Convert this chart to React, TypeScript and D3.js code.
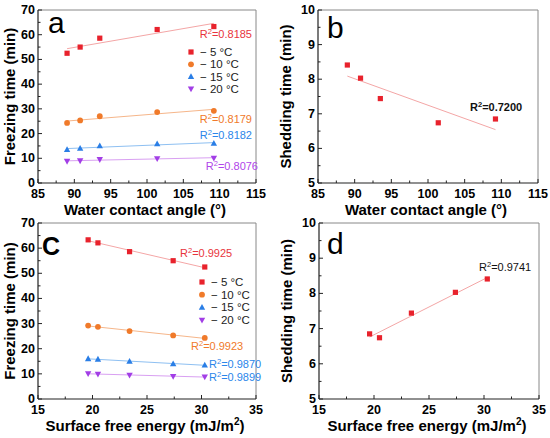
import * as d3 from "d3";

// contact angle and surface energy of the five samples (same order)
const contactAngles = [89.0, 90.8, 93.5, 101.4, 109.2];
const surfaceEnergies = [30.3, 27.4, 23.4, 20.5, 19.6];

// freezing time (min) per temperature
const freezeMinus5 = [52.5, 55.0, 58.6, 62.1, 63.3];
const freezeMinus10 = [24.3, 25.3, 27.0, 28.7, 29.2];
const freezeMinus15 = [13.5, 14.0, 15.0, 15.8, 16.0];
const freezeMinus20 = [8.8, 9.0, 9.5, 9.9, 10.1];

// shedding time (min)
const sheddingTimes = [8.41, 8.03, 7.44, 6.74, 6.85];

const tempLabels = ["\u2212 5 \u00b0C", "\u2212 10 \u00b0C", "\u2212 15 \u00b0C", "\u2212 20 \u00b0C"];
const r2Angle = ["0.8185", "0.8179", "0.8182", "0.8076"];
const r2Energy = ["0.9925", "0.9923", "0.9870", "0.9899"];
const r2SheddingAngle = "0.7200";
const r2SheddingEnergy = "0.9741";

const FONT = "'Liberation Sans', Arial, sans-serif";

type Shape = "square" | "circle" | "up" | "down";

type Series = {
  ys: number[];
  color: string;
  lineColor: string;
  shape: Shape;
};

const freezeSeries: Series[] = [
  { ys: freezeMinus5, color: "#e8222c", lineColor: "#f4a6a6", shape: "square" },
  { ys: freezeMinus10, color: "#f07a2a", lineColor: "#f6b68a", shape: "circle" },
  { ys: freezeMinus15, color: "#2a7ee6", lineColor: "#8ec0f2", shape: "up" },
  { ys: freezeMinus20, color: "#a23ee6", lineColor: "#d9a0f2", shape: "down" },
];

const r2Colors = ["#e8343c", "#f07a2a", "#2a86ea", "#b044ea"];

const fit = (xs: number[], ys: number[]) => {
  const mx = d3.mean(xs)!;
  const my = d3.mean(ys)!;
  const sxy = d3.sum(xs, (x, i) => (x - mx) * (ys[i] - my));
  const sxx = d3.sum(xs, (x) => (x - mx) ** 2);
  const slope = sxy / sxx;
  return (x: number) => my + slope * (x - mx);
};

const Marker = ({ x, y, shape, color }: { x: number; y: number; shape: Shape; color: string }) => {
  if (shape === "square") return <rect x={x - 2.6} y={y - 2.6} width={5.2} height={5.2} fill={color} />;
  if (shape === "circle") return <circle cx={x} cy={y} r={2.9} fill={color} />;
  if (shape === "up")
    return <path d={`M${x},${y - 3.4}L${x + 3.2},${y + 2.4}L${x - 3.2},${y + 2.4}Z`} fill={color} />;
  return <path d={`M${x},${y + 3.4}L${x + 3.2},${y - 2.4}L${x - 3.2},${y - 2.4}Z`} fill={color} />;
};

const R2 = ({ x, y, value, color, anchor = "start", weight = "normal" }: any) => (
  <text x={x} y={y} fill={color} fontSize={11} fontFamily={FONT} textAnchor={anchor} fontWeight={weight}>
    R<tspan fontSize={7.5} dy={-4.5}>2</tspan>
    <tspan dy={4.5}>={value}</tspan>
  </text>
);

type PanelProps = {
  left: number;
  top: number;
  width: number;
  height: number;
  xDomain: [number, number];
  yDomain: [number, number];
  yStep: number;
  xs: number[];
  series: Series[];
  letter: string;
  letterPos: [number, number];
  letterBold?: boolean;
  xTitle: React.ReactNode;
  yTitle: string;
  yTitleGap: number;
  children?: React.ReactNode;
};

const Panel = ({
  left, top, width, height, xDomain, yDomain, yStep, xs, series,
  letter, letterPos, letterBold, xTitle, yTitle, yTitleGap, children,
}: PanelProps) => {
  const x = d3.scaleLinear().domain(xDomain).range([left, left + width]);
  const y = d3.scaleLinear().domain(yDomain).range([top + height, top]);
  const xMajor = d3.range(xDomain[0], xDomain[1] + 0.001, 5);
  const xMinor = d3.range(xDomain[0] + 2.5, xDomain[1], 5);
  const yMajor = d3.range(yDomain[0], yDomain[1] + 0.001, yStep);
  const yMinor = d3.range(yDomain[0] + yStep / 2, yDomain[1], yStep);
  const bottom = top + height;
  const [x0, x1] = d3.extent(xs) as [number, number];

  return (
    <g>
      {/* frame */}
      <line x1={left} x2={left + width} y1={top} y2={top} stroke="#888" strokeWidth={1} />
      <line x1={left + width} x2={left + width} y1={top} y2={bottom} stroke="#888" strokeWidth={1} />
      <line x1={left} x2={left} y1={top} y2={bottom} stroke="#222" strokeWidth={1.2} />
      <line x1={left} x2={left + width} y1={bottom} y2={bottom} stroke="#222" strokeWidth={1.2} />

      {xMajor.map((t) => (
        <g key={"xm" + t}>
          <line x1={x(t)} x2={x(t)} y1={bottom} y2={bottom - 4} stroke="#222" />
          <text x={x(t)} y={bottom + 15} textAnchor="middle" fontSize={12.5} fontWeight="bold" fontFamily={FONT}>
            {t}
          </text>
        </g>
      ))}
      {xMinor.map((t) => (
        <line key={"xn" + t} x1={x(t)} x2={x(t)} y1={bottom} y2={bottom - 2.5} stroke="#222" />
      ))}
      {yMajor.map((t) => (
        <g key={"ym" + t}>
          <line x1={left} x2={left + 4} y1={y(t)} y2={y(t)} stroke="#222" />
          <text x={left - 3} y={y(t) + 4} textAnchor="end" fontSize={12.5} fontWeight="bold" fontFamily={FONT}>
            {t}
          </text>
        </g>
      ))}
      {yMinor.map((t) => (
        <line key={"yn" + t} x1={left} x2={left + 2.5} y1={y(t)} y2={y(t)} stroke="#222" />
      ))}

      <text
        x={left + width / 2 - 2}
        y={bottom + 31.5}
        textAnchor="middle"
        fontSize={15}
        fontWeight="bold"
        fontFamily={FONT}
      >
        {xTitle}
      </text>
      <text
        transform={`translate(${left - yTitleGap},${top + height / 2}) rotate(-90)`}
        textAnchor="middle"
        fontSize={15}
        fontWeight="bold"
        fontFamily={FONT}
      >
        {yTitle}
      </text>

      {series.map((s, si) => {
        const f = fit(xs, s.ys);
        return (
          <g key={si}>
            <line x1={x(x0)} x2={x(x1)} y1={y(f(x0))} y2={y(f(x1))} stroke={s.lineColor} strokeWidth={1} />
            {xs.map((v, i) => (
              <Marker key={i} x={x(v)} y={y(s.ys[i])} shape={s.shape} color={s.color} />
            ))}
          </g>
        );
      })}

      <text
        x={letterPos[0]}
        y={letterPos[1]}
        fontSize={letterBold ? 25 : 30}
        fontWeight={letterBold ? "bold" : "normal"}
        fontFamily={FONT}
      >
        {letter}
      </text>
      {children}
    </g>
  );
};

const Legend = ({ x, y, gap }: { x: number; y: number; gap: number }) => (
  <g>
    {freezeSeries.map((s, i) => (
      <g key={i}>
        <Marker x={x} y={y + i * gap} shape={s.shape} color={s.color} />
        <text x={x + 9} y={y + i * gap + 4} fontSize={11.5} fontFamily={FONT} fill="#222">
          {tempLabels[i]}
        </text>
      </g>
    ))}
  </g>
);

const energyTitle = (
  <>
    Surface free energy (mJ/m<tspan fontSize={10} dy={-6}>2</tspan>
    <tspan dy={6}>)</tspan>
  </>
);

const App = () => {
  const shedSeries: Series[] = [{ ys: sheddingTimes, color: "#e8222c", lineColor: "#f4a6a6", shape: "square" }];
  return (
    <svg width={550} height={438} style={{ position: "absolute", left: 0, top: 0, background: "#fff" }}>
      <Panel
        left={38}
        top={10}
        width={218}
        height={173}
        xDomain={[85, 115]}
        yDomain={[0, 70]}
        yStep={10}
        xs={contactAngles}
        series={freezeSeries}
        letter="a"
        letterPos={[48, 33]}
        xTitle="Water contact angle (°)"
        yTitle="Freezing time (min)"
        yTitleGap={23}
      >
        <Legend x={191} y={52} gap={12.3} />
        <R2 x={252} y={38} value={r2Angle[0]} color={r2Colors[0]} anchor="end" />
        <R2 x={252} y={123} value={r2Angle[1]} color={r2Colors[1]} anchor="end" />
        <R2 x={252} y={139} value={r2Angle[2]} color={r2Colors[2]} anchor="end" />
        <R2 x={258} y={170} value={r2Angle[3]} color={r2Colors[3]} anchor="end" />
      </Panel>
      <Panel
        left={318}
        top={10}
        width={220}
        height={173}
        xDomain={[85, 115]}
        yDomain={[5, 10]}
        yStep={1}
        xs={contactAngles}
        series={shedSeries}
        letter="b"
        letterPos={[327, 38]}
        xTitle="Water contact angle (°)"
        yTitle="Shedding time (min)"
        yTitleGap={27}
      >
        <R2 x={470} y={111} value={r2SheddingAngle} color="#111" weight="bold" />
      </Panel>
      <Panel
        left={38}
        top={223}
        width={218}
        height={176}
        xDomain={[15, 35]}
        yDomain={[0, 70]}
        yStep={10}
        xs={surfaceEnergies}
        series={freezeSeries}
        letter="C"
        letterPos={[42, 255]}
        letterBold
        xTitle={energyTitle}
        yTitle="Freezing time (min)"
        yTitleGap={23}
      >
        <Legend x={202} y={282} gap={12.7} />
        <R2 x={180} y={257} value={r2Energy[0]} color={r2Colors[0]} />
        <R2 x={191} y={350} value={r2Energy[1]} color={r2Colors[1]} />
        <R2 x={209} y={368} value={r2Energy[2]} color={r2Colors[2]} />
        <R2 x={209} y={381} value={r2Energy[3]} color={r2Colors[2]} />
      </Panel>
      <Panel
        left={319}
        top={223}
        width={220}
        height={176}
        xDomain={[15, 35]}
        yDomain={[5, 10]}
        yStep={1}
        xs={surfaceEnergies}
        series={shedSeries}
        letter="d"
        letterPos={[327, 254]}
        xTitle={energyTitle}
        yTitle="Shedding time (min)"
        yTitleGap={27}
      >
        <R2 x={479} y={271} value={r2SheddingEnergy} color="#111" />
      </Panel>
    </svg>
  );
};

export default App;
